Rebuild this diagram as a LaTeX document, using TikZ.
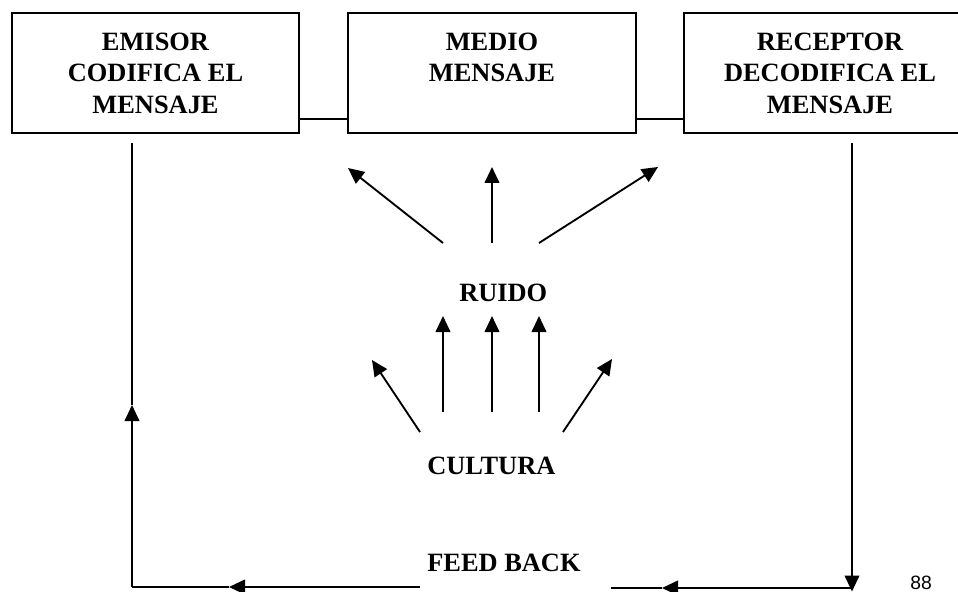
\documentclass[tikz,border=0pt]{standalone}
\usepackage{fontspec}
\setmainfont{Liberation Serif}
\newfontfamily\pagefont{Liberation Sans}
\usetikzlibrary{arrows.meta}
\begin{document}
\begin{tikzpicture}[x=0.75pt,y=-0.75pt,
  boxnode/.style={draw,line width=1.3pt,minimum height=90pt,inner sep=0pt,align=center,
    font=\bfseries\fontsize{19.8pt}{23.6pt}\selectfont},
  lbl/.style={anchor=west,inner sep=0pt,font=\bfseries\fontsize{19.8pt}{23.6pt}\selectfont},
  con/.style={line width=1.4pt},
  arr/.style={line width=1.4pt,-{Triangle[length=12pt,width=11pt]}}]
\useasboundingbox (0,0) rectangle (958,592);
\clip (0,0) rectangle (958,592);
% boxes
\node[boxnode,minimum width=215.25pt] (b1) at (155.5,73) {EMISOR\\CODIFICA EL\\MENSAJE};
\node[boxnode,minimum width=216pt] (b2) at (492,73) {MEDIO\\MENSAJE\\\phantom{MENSAJE}};
\node[boxnode,minimum width=219pt] (b3) at (830,73) {RECEPTOR\\DECODIFICA EL\\MENSAJE};
\draw[con] ([yshift=11pt]b1.south east) -- ([yshift=11pt]b2.south west);
\draw[con] ([yshift=11pt]b2.south east) -- ([yshift=11pt]b3.south west);
% labels
\node[lbl] (ruido) at (459,293) {RUIDO};
\node[lbl] (cultura) at (427,466) {CULTURA};
\node[lbl] (feed) at (427,563) {FEED BACK};
\node[anchor=base,inner sep=0pt,font=\pagefont\fontsize{14.5pt}{18pt}\selectfont] (page) at (921,589) {88};
% upper fan
\coordinate (u1s) at (443,243); \coordinate (u1e) at (348,168);
\coordinate (u2s) at (492,243); \coordinate (u2e) at (492,167);
\coordinate (u3s) at (539,243); \coordinate (u3e) at (658,167);
\draw[arr] (u1s) -- (u1e);
\draw[arr] (u2s) -- (u2e);
\draw[arr] (u3s) -- (u3e);
% lower fan
\coordinate (l1s) at (420,432); \coordinate (l1e) at (372,360);
\coordinate (l2s) at (443,412); \coordinate (l2e) at (443,316);
\coordinate (l3s) at (492,412); \coordinate (l3e) at (492,316);
\coordinate (l4s) at (539,412); \coordinate (l4e) at (539,316);
\coordinate (l5s) at (563,432); \coordinate (l5e) at (612,359);
\draw[arr] (l1s) -- (l1e);
\draw[arr] (l2s) -- (l2e);
\draw[arr] (l3s) -- (l3e);
\draw[arr] (l4s) -- (l4e);
\draw[arr] (l5s) -- (l5e);
% feedback loop
\coordinate (rt) at (852,143); \coordinate (rb) at (852,591.5);
\coordinate (rc) at (852,588); \coordinate (rtip) at (662,588); \coordinate (rend) at (611,588);
\coordinate (fl) at (420,587); \coordinate (ltip) at (229,587); \coordinate (lb) at (132,587);
\coordinate (ltipv) at (132,405); \coordinate (lt) at (132,143);
\draw[arr] (rt) -- (rb);
\draw[arr] (rc) -- (rtip);
\draw[con] (rtip) -- (rend);
\draw[arr] (fl) -- (ltip);
\draw[con] (ltip) -- (lb);
\draw[arr] (lb) -- (ltipv);
\draw[con] (ltipv) -- (lt);
\end{tikzpicture}
\end{document}
